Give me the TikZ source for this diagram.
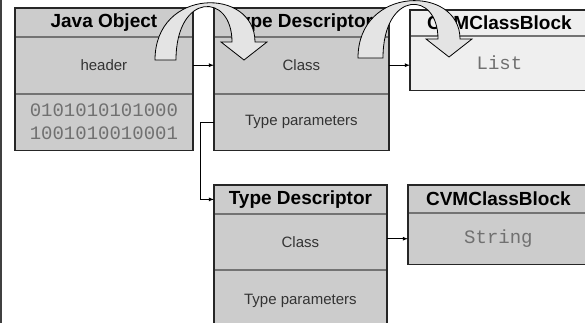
\documentclass[tikz,border=0pt]{standalone}
\usepackage{fontspec}
\setmainfont{Liberation Sans}
\setmonofont{Liberation Mono}
\usetikzlibrary{arrows,positioning}

\definecolor{cellgray}{HTML}{CCCCCC}
\definecolor{celllight}{HTML}{EFEFEF}
\definecolor{bendgray}{HTML}{E4E4E4}
\definecolor{textgray}{HTML}{333333}
\definecolor{bitgray}{HTML}{707070}

\tikzset{
  cell/.style={fill=cellgray, draw=black!55, line width=0.8pt, inner sep=0pt,
    anchor=north west, text=textgray, font=\fontsize{15}{17}\selectfont},
  headcell/.style={cell, text=black, font=\fontsize{19}{21}\selectfont\bfseries},
  bitcell/.style={cell, text=bitgray, font=\ttfamily\fontsize{19}{23}\selectfont},
  boxframe/.style={draw=black!85, line width=1.6pt},
  link/.style={-latex, line width=0.8pt},
  bendarrow/.style={fill=bendgray, draw=black, line width=0.8pt},
}

\begin{document}
\begin{tikzpicture}[x=1pt,y=-1pt]
    \useasboundingbox (0,0) rectangle (585,323);
    \draw[line width=1.5pt, black!75] (1,0) -- (1,323);

    % java object
    \node[headcell, minimum width=177, minimum height=28] (JO) at (15,8) {Java Object};
    \node[cell, minimum width=177, minimum height=56, below=0pt of JO] (JOhdr) {header};
    \node[bitcell, minimum width=177, minimum height=56, below=0pt of JOhdr, align=left] (JObits) {0101010101000\\1001010010001};
    \draw[boxframe] (JO.north west) rectangle (JObits.south east);

    % first type descriptor
    \node[headcell, minimum width=174, minimum height=28] (TD1) at (214,8) {Type Descriptor};
    \node[cell, minimum width=174, minimum height=56, below=0pt of TD1] (TD1cls) {Class};
    \node[cell, minimum width=174, minimum height=56, below=0pt of TD1cls] (TD1par) {Type parameters};
    \draw[boxframe] (TD1.north west) rectangle (TD1par.south east);

    \node[headcell, fill=celllight, minimum width=178, minimum height=25] (CVM1) at (410,10) {CVMClassBlock};
    \node[bitcell, fill=celllight, minimum width=178, minimum height=54, below=0pt of CVM1] (CVM1list) {List};
    \draw[boxframe] (CVM1.north west) rectangle (CVM1list.south east);

    % second type descriptor
    \node[headcell, minimum width=172, minimum height=28] (TD2) at (214,185) {Type Descriptor};
    \node[cell, minimum width=172, minimum height=55, below=0pt of TD2] (TD2cls) {Class};
    \node[cell, minimum width=172, minimum height=62, below=0pt of TD2cls] (TD2par) {Type parameters};
    \draw[boxframe] (TD2.north west) rectangle (TD2par.south east);

    \node[headcell, minimum width=180, minimum height=27] (CVM2) at (408,185) {CVMClassBlock};
    \node[bitcell, minimum width=180, minimum height=51, below=0pt of CVM2] (CVM2str) {String};
    \draw[boxframe] (CVM2.north west) rectangle (CVM2str.south east);

    \draw[link] (JOhdr.east) -- (TD1cls.west);
    \draw[link] (TD1cls.east) -- (TD1cls.east -| CVM1list.west);
    \draw[link] (TD1par.west) -- ++(-14,0) |- (TD2.west);
    \draw[link] (CVM2str.west -| TD2cls.east) -- (CVM2str.west);

    % bent arrows on top
    \draw[bendarrow] (155,60) .. controls (155,-13) and (255,-13) .. (255,42) -- (267,42) -- (244,60)
        -- (221,42) -- (232,42) .. controls (232,-8) and (176,-8) .. (176,60) -- cycle;
    \draw[bendarrow] (358,58) .. controls (358,-15) and (460,-15) .. (460,39) -- (472,39) -- (449,57)
        -- (426,39) -- (438,39) .. controls (438,-10) and (383,-10) .. (383,58) -- cycle;
\end{tikzpicture}
\end{document}
